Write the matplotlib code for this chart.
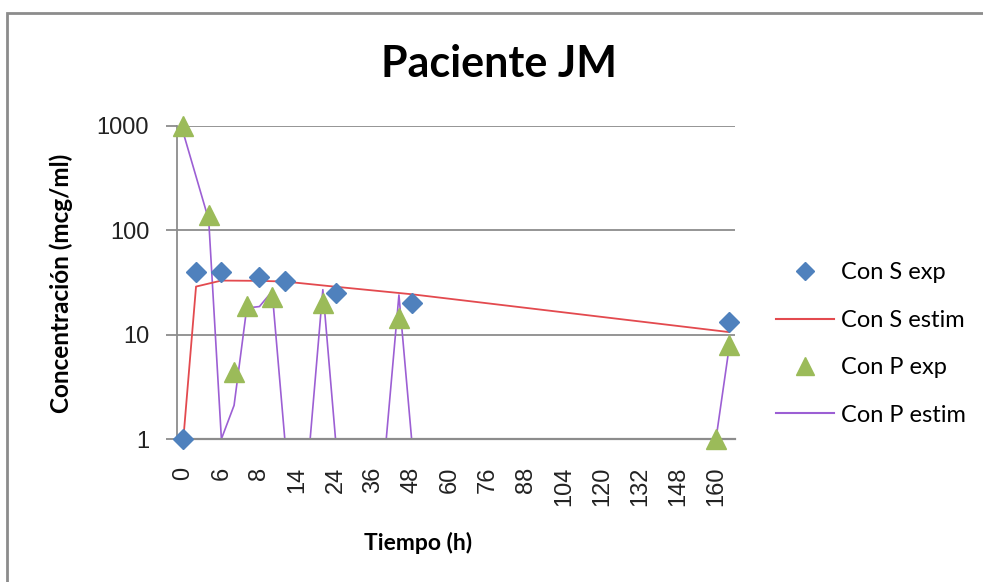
import matplotlib
matplotlib.use("Agg")
import matplotlib.pyplot as plt
import numpy as np
from matplotlib.lines import Line2D
from matplotlib.patches import Rectangle

# categories are evenly spaced (Excel line chart), labels shown every 3rd one
n_cats = 44
tick_cats = [0, 3, 6, 9, 12, 15, 18, 21, 24, 27, 30, 33, 36, 39, 42]
tick_labels = ['0', '6', '8', '14', '24', '36', '48', '60', '76', '88',
               '104', '120', '132', '148', '160']

s_exp_cat = [0, 1, 3, 6, 8, 12, 18, 43]
s_exp = [1, 40, 40, 36, 32.5, 25.3, 20, 13.3]

s_est_cat = [0, 1, 3, 6, 8, 12, 18, 43]
s_est = [1, 28.9, 33, 32.8, 32.3, 28.8, 24.4, 10.6]

p_exp_cat = [0, 2, 4, 5, 7, 11, 17, 42, 43]
p_exp = [1000, 140, 4.4, 19, 23.2, 20, 14.6, 1, 8.0]

p_est_cat = [0, 2, 3, 4, 5, 6, 7, 8, 9, 10, 11, 12, 13, 14, 15, 16, 17, 18,
             19, 20, 21, 22, 23, 24, 25, 26, 27, 28, 29, 30, 31, 32, 33, 34,
             35, 36, 37, 38, 39, 40, 41, 42, 43]
p_est = [857, 126, 1, 2.1, 18, 18.6, 26, 1, 1, 1, 27, 1, 1, 1, 1, 1, 24, 1,
         1, 1, 1, 1, 1, 1, 1, 1, 1, 1, 1, 1, 1, 1, 1, 1,
         1, 1, 1, 1, 1, 1, 1, 1, 7]

BLUE = '#4F81BD'
RED = '#E34A4F'
GREEN = '#9BBB59'
PURPLE = '#9C5FD4'
GRID = '#8C8C8C'

W, H = 983, 582
fig = plt.figure(figsize=(W / 100, H / 100), dpi=100)
fig.patch.set_facecolor('white')

# chart area border (only top and left edges are inside the picture)
fig.add_artist(Rectangle((7 / W, -0.1), 1.2, 1 - 13 / H + 0.1,
                         transform=fig.transFigure, fill=False,
                         edgecolor='#8C8C8C', lw=2))

ax = fig.add_axes([177 / W, 1 - 439 / H, (735 - 177) / W, (439 - 126) / H])
ax.set_yscale('log')
ax.set_ylim(1, 1000)
ax.set_xlim(-0.5, n_cats - 0.5)

ax.plot(p_est_cat, p_est, color=PURPLE, lw=1.2, zorder=2.3)
ax.plot(s_est_cat, s_est, color=RED, lw=1.3, zorder=2.35)
ax.plot(s_exp_cat, s_exp, ls='none', marker='D', ms=10, color=BLUE,
        mec=BLUE, zorder=4, clip_on=False)
ax.plot(p_exp_cat, p_exp, ls='none', marker='^', ms=15, color=GREEN,
        mec=GREEN, zorder=5, clip_on=False)

ax.set_yticks([1, 10, 100, 1000])
ax.set_yticklabels(['1', '10', '100', '1000'])
ax.yaxis.set_minor_locator(matplotlib.ticker.NullLocator())
ax.grid(axis='y', which='major', color=GRID, lw=1.3, zorder=1)
ax.set_axisbelow(True)

ax.set_xticks(tick_cats)
ax.set_xticklabels(tick_labels, rotation=90)
ax.tick_params(axis='x', length=0, pad=20, labelsize=17)
ax.tick_params(axis='y', length=8, width=1.3, color=GRID, pad=12,
               labelsize=17)
for lab in ax.get_xticklabels() + ax.get_yticklabels():
    lab.set_fontfamily('Liberation Sans')
    lab.set_color('#222222')

for side in ['top', 'right']:
    ax.spines[side].set_visible(False)
ax.spines['left'].set_color(GRID)
ax.spines['left'].set_linewidth(1.3)
ax.spines['bottom'].set_color(GRID)
ax.spines['bottom'].set_linewidth(1.6)

fig.text(499 / W, 1 - 64 / H, 'Paciente JM', ha='center', va='center',
         fontsize=31, fontweight='bold', fontfamily='Lato', color='black')
fig.text(61 / W, 1 - 283 / H, 'Concentración (mcg/ml)', rotation=90,
         ha='center', va='center', fontsize=17.5, fontweight='bold',
         fontfamily='Lato', color='black')
fig.text(418 / W, 1 - 543 / H, 'Tiempo (h)', ha='center', va='center',
         fontsize=16.5, fontweight='bold', fontfamily='Lato', color='black')

handles = [
    Line2D([], [], ls='none', marker='D', ms=9, color=BLUE),
    Line2D([], [], color=RED, lw=1.5),
    Line2D([], [], ls='none', marker='^', ms=13, color=GREEN),
    Line2D([], [], color=PURPLE, lw=1.5),
]
labels = ['Con S exp', 'Con S estim', 'Con P exp', 'Con P estim']
fig.legend(handles, labels, loc='center left',
           bbox_to_anchor=(767 / W, 1 - 344 / H), frameon=False,
           prop={'family': 'Lato', 'size': 17}, handlelength=2.45,
           handletextpad=0.3, labelspacing=1.12, borderaxespad=0)

fig.savefig('out.png', dpi=100)
